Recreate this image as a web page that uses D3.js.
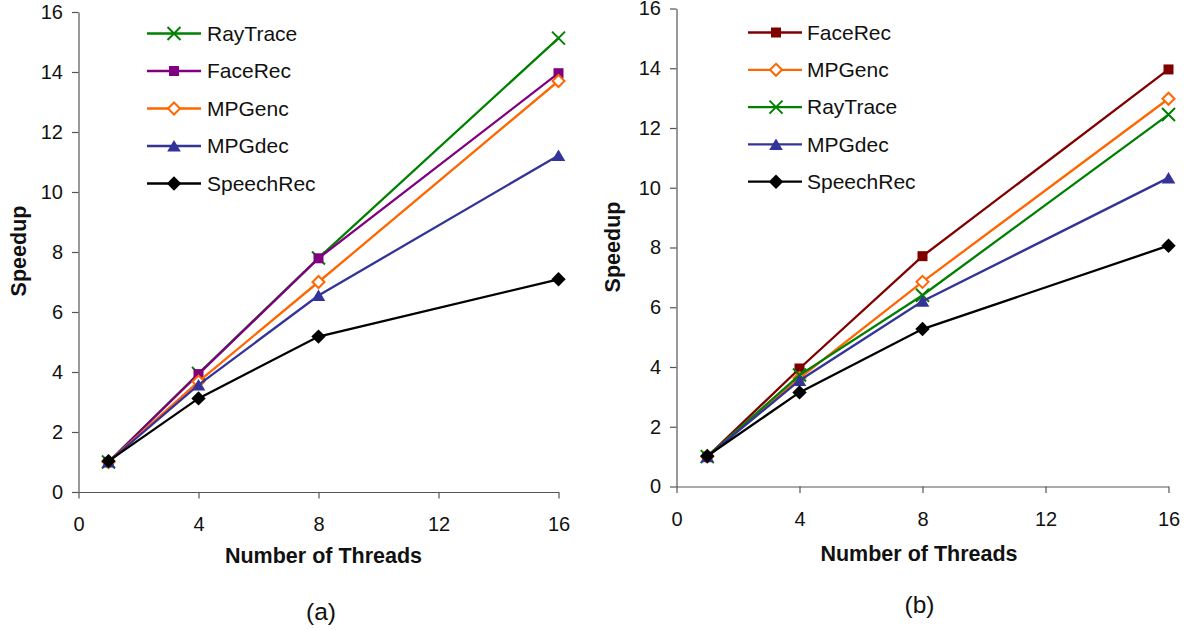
<!DOCTYPE html>
<html>
<head>
<meta charset="utf-8">
<script src="https://cdn.jsdelivr.net/npm/d3@7"></script>
<style>
  body { margin: 0; background: #fff; }
  svg { display: block; font-family: "Liberation Sans", Arial, Helvetica, sans-serif; }
</style>
</head>
<body>
<svg id="chart" width="1187" height="630"></svg>
<script>
// Thread counts measured and axis tick values
const threads = [1, 4, 8, 16];
const xTickValues = [0, 4, 8, 12, 16];
const yTickValues = [0, 2, 4, 6, 8, 10, 12, 14, 16];

// Panel (a): speedup per benchmark, legend order
const namesA = ["RayTrace", "FaceRec", "MPGenc", "MPGdec", "SpeechRec"];
const rayTraceA  = [1.0, 3.95, 7.8, 15.13];
const faceRecA   = [1.0, 3.93, 7.79, 13.96];
const mpgEncA    = [1.0, 3.68, 7.0, 13.7];
const mpgDecA    = [1.0, 3.57, 6.55, 11.22];
const speechRecA = [1.03, 3.12, 5.18, 7.09];

// Panel (b): speedup per benchmark, legend order
const namesB = ["FaceRec", "MPGenc", "RayTrace", "MPGdec", "SpeechRec"];
const faceRecB   = [1.0, 3.95, 7.71, 13.96];
const mpgEncB    = [1.0, 3.63, 6.85, 12.98];
const rayTraceB  = [1.0, 3.73, 6.4, 12.45];
const mpgDecB    = [1.0, 3.55, 6.2, 10.33];
const speechRecB = [1.02, 3.15, 5.27, 8.06];

const captions = ["(a)", "(b)"];

// Series appearance
const styleA = {
  RayTrace:  { color: "#008000", marker: "x" },
  FaceRec:   { color: "#800080", marker: "square" },
  MPGenc:    { color: "#FF6600", marker: "hollowDiamond" },
  MPGdec:    { color: "#333399", marker: "triangle" },
  SpeechRec: { color: "#000000", marker: "diamond" }
};
const styleB = Object.assign({}, styleA, { FaceRec: { color: "#800000", marker: "square" } });

const panels = [
  {
    names: namesA,
    values: { RayTrace: rayTraceA, FaceRec: faceRecA, MPGenc: mpgEncA, MPGdec: mpgDecA, SpeechRec: speechRecA },
    style: styleA,
    xRange: [78.5, 558.5], yRange: [492, 12],
    legend: { x0: 147, x1: 201, mx: 174, tx: 207, y0: 33.5, dy: 37.5 },
    yTitle: { x: 18, y: 251 },
    xTitle: { x: 323.5, y: 563 },
    caption: { x: 321, y: 620, text: captions[0] },
    xPad: 18
  },
  {
    names: namesB,
    values: { FaceRec: faceRecB, MPGenc: mpgEncB, RayTrace: rayTraceB, MPGdec: mpgDecB, SpeechRec: speechRecB },
    style: styleB,
    xRange: [676.5, 1168.5], yRange: [486.5, 8.5],
    legend: { x0: 748, x1: 802, mx: 776, tx: 807, y0: 32.5, dy: 37.3 },
    yTitle: { x: 612, y: 247 },
    xTitle: { x: 919, y: 561 },
    caption: { x: 919.5, y: 613, text: captions[1] },
    xPad: 19
  }
];

// Marker shapes centred on the data point
function drawMarker(sel, type, color) {
  if (type === "square") {
    sel.append("path").attr("d", "M-5,-5h10v10h-10z").attr("fill", color);
  } else if (type === "diamond") {
    sel.append("path").attr("d", "M0,-7.2L7.2,0L0,7.2L-7.2,0Z").attr("fill", color);
  } else if (type === "hollowDiamond") {
    sel.append("path").attr("d", "M0,-6L6,0L0,6L-6,0Z")
      .attr("fill", "#fff").attr("stroke", color).attr("stroke-width", 2);
  } else if (type === "triangle") {
    sel.append("path").attr("d", "M0,-6L6.8,5.5L-6.8,5.5Z").attr("fill", color);
  } else if (type === "x") {
    sel.append("path").attr("d", "M-6.5,-6.5L6.5,6.5M-6.5,6.5L6.5,-6.5")
      .attr("fill", "none").attr("stroke", color).attr("stroke-width", 2);
  }
}

const svg = d3.select("#chart");
const axisColor = "#555";

panels.forEach(p => {
  const x = d3.scaleLinear().domain([0, 16]).range(p.xRange);
  const y = d3.scaleLinear().domain([0, 16]).range(p.yRange);
  const g = svg.append("g");

  // Axes
  const yAxis = g.append("g")
    .attr("transform", `translate(${p.xRange[0]},0)`)
    .call(d3.axisLeft(y).tickValues(yTickValues).tickFormat(d3.format("d"))
      .tickSize(6.5).tickSizeOuter(0).tickPadding(9));
  const xAxis = g.append("g")
    .attr("transform", `translate(0,${p.yRange[0]})`)
    .call(d3.axisBottom(x).tickValues(xTickValues).tickFormat(d3.format("d"))
      .tickSize(6.5).tickSizeOuter(0).tickPadding(p.xPad));
  [xAxis, yAxis].forEach(a => {
    a.selectAll("path.domain").attr("stroke", axisColor).attr("stroke-width", 1.2);
    a.selectAll(".tick line").attr("stroke", axisColor).attr("stroke-width", 1.2);
    a.selectAll(".tick text").attr("fill", "#111").style("font-size", "20px")
      .style("font-family", "'Liberation Sans', Arial, sans-serif");
  });

  // Series lines and markers
  const line = d3.line().x((d, i) => x(threads[i])).y(d => y(d));
  p.names.forEach(name => {
    const st = p.style[name];
    const vals = p.values[name];
    g.append("path").datum(vals).attr("d", line)
      .attr("fill", "none").attr("stroke", st.color).attr("stroke-width", 2.3);
    vals.forEach((v, i) => {
      const m = g.append("g").attr("transform", `translate(${x(threads[i])},${y(v)})`);
      drawMarker(m, st.marker, st.color);
    });
  });

  // Legend
  const L = p.legend;
  p.names.forEach((name, i) => {
    const st = p.style[name];
    const yy = L.y0 + i * L.dy;
    g.append("line").attr("x1", L.x0).attr("x2", L.x1).attr("y1", yy).attr("y2", yy)
      .attr("stroke", st.color).attr("stroke-width", 2.3);
    const m = g.append("g").attr("transform", `translate(${L.mx},${yy})`);
    drawMarker(m, st.marker, st.color);
    g.append("text").attr("x", L.tx).attr("y", yy).attr("dy", "0.35em")
      .attr("fill", "#111").style("font-size", "21px").text(name);
  });

  // Axis titles and caption
  g.append("text")
    .attr("transform", `translate(${p.yTitle.x},${p.yTitle.y}) rotate(-90)`)
    .attr("text-anchor", "middle").attr("dy", "0.35em")
    .style("font-size", "21.5px").style("font-weight", "bold").attr("fill", "#111")
    .text("Speedup");
  g.append("text").attr("x", p.xTitle.x).attr("y", p.xTitle.y)
    .attr("text-anchor", "middle")
    .style("font-size", "21.5px").style("font-weight", "bold").attr("fill", "#111")
    .text("Number of Threads");
  g.append("text").attr("x", p.caption.x).attr("y", p.caption.y)
    .attr("text-anchor", "middle")
    .style("font-size", "24.5px").attr("fill", "#111")
    .text(p.caption.text);
});
</script>
</body>
</html>
